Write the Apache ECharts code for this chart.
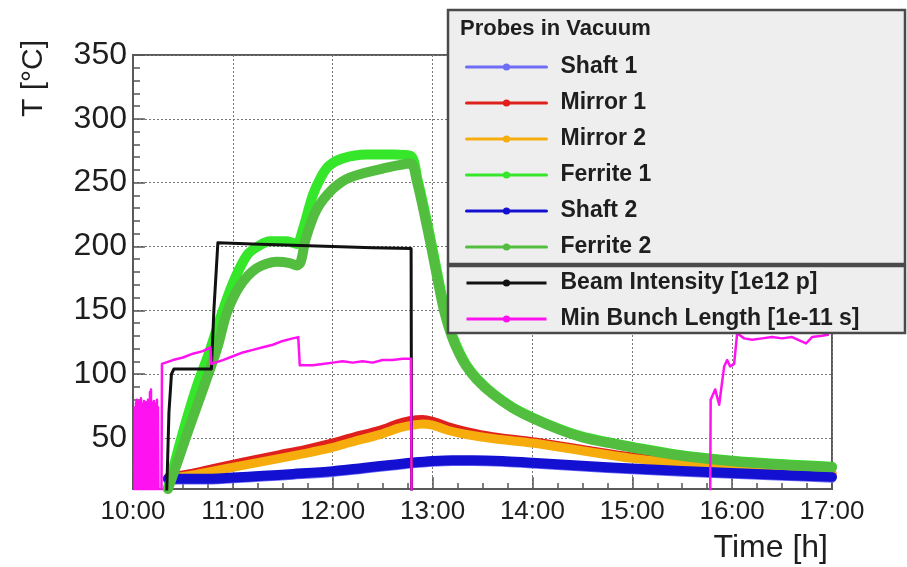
<!DOCTYPE html>
<html>
<head>
<meta charset="utf-8">
<title>Probe temperatures</title>
<script src="https://cdn.jsdelivr.net/npm/echarts@6/dist/echarts.min.js"></script>
<style>
  html, body { margin: 0; padding: 0; background: #fff; }
  #chart { width: 907px; height: 567px; }
</style>
</head>
<body>
<div id="chart"></div>
<script>
// Time axis (hours of day) and temperature axis ticks
const hourLabels = ['10:00', '11:00', '12:00', '13:00', '14:00', '15:00', '16:00', '17:00'];
const tempTicks = [50, 100, 150, 200, 250, 300, 350];

// Temperature probes: [time in h, T in °C]
const shaft1 = [[10.35,17],[10.7,17],[11.0,18],[11.3,19.3],[11.6,20.8],[12.0,23],[12.3,25.5],[12.6,28],[12.8,29.7],[13.0,31],[13.2,31.6],[13.4,31.6],[13.7,31],[14.0,29.5],[14.5,27.2],[15.0,25],[15.5,23.2],[16.0,21.6],[16.5,20],[17.0,18.5]];
const mirror1 = [[10.35,19],[10.6,22.5],[10.8,26],[11.1,31],[11.47,37],[11.7,40.5],[11.97,45.5],[12.2,50.5],[12.47,56],[12.65,61],[12.77,63.5],[12.9,64.5],[13.0,63],[13.15,59],[13.34,55],[13.6,51],[14.0,47],[14.5,41],[15.0,35],[15.5,31],[16.0,28],[16.5,25],[17.0,22.5]];
const mirror2 = [[10.35,18],[10.6,21],[10.8,24],[11.1,28.5],[11.47,34],[11.7,37.5],[11.97,42],[12.2,47],[12.47,52.6],[12.65,57.5],[12.77,59.6],[12.9,61],[13.0,60],[13.15,56],[13.34,52.7],[13.6,49.5],[14.0,46],[14.5,40],[15.0,34],[15.5,30],[16.0,27],[16.5,24.5],[17.0,22]];
const ferrite1 = [[10.35,11],[10.45,40],[10.55,68],[10.65,93],[10.75,114],[10.85,138],[10.95,161],[11.05,180],[11.15,194],[11.25,200],[11.37,204],[11.54,204],[11.64,202],[11.7,213],[11.8,240],[11.88,254],[11.96,263],[12.1,269],[12.34,272],[12.6,272],[12.78,271],[12.85,252],[12.92,228],[13.0,198],[13.07,170],[13.13,148],[13.2,130],[13.27,117],[13.34,107],[13.45,96],[13.6,85],[13.8,74],[14.0,66],[14.27,57],[14.5,51],[14.8,46],[15.0,43],[15.4,37.5],[15.77,34],[16.2,31],[16.6,29],[17.0,27.5]];
const shaft2 = [[10.35,18],[10.7,18],[11.0,19],[11.3,20.3],[11.6,21.8],[12.0,24],[12.3,26.5],[12.6,29],[12.8,30.7],[13.0,32],[13.2,32.6],[13.4,32.6],[13.7,32],[14.0,30.5],[14.5,28.2],[15.0,26],[15.5,24.2],[16.0,22.6],[16.5,21],[17.0,19.5]];
const ferrite2 = [[10.35,10],[10.45,32],[10.55,55],[10.65,77],[10.75,99],[10.85,122],[10.94,148],[11.07,169],[11.24,183],[11.44,188],[11.57,187],[11.64,185],[11.68,188],[11.73,206],[11.84,229],[12.0,245],[12.17,254],[12.5,261],[12.78,265],[12.84,252],[12.91,228],[12.99,198],[13.06,170],[13.12,148],[13.19,130],[13.26,117],[13.33,107],[13.44,96],[13.6,84.5],[13.8,73.5],[14.0,65.5],[14.27,56.5],[14.5,50.5],[14.8,45.5],[15.0,42.5],[15.4,37],[15.77,33.5],[16.2,30.5],[16.6,28.5],[17.0,27]];

// Beam intensity [1e12 p]
const beamIntensity = [[10.0,0],[10.335,0],[10.36,70],[10.385,100],[10.41,104],[10.6,104],[10.785,104],[10.81,150],[10.85,203],[11.2,202],[11.6,201],[12.0,200],[12.4,199],[12.785,198.5],[12.79,0],[17.0,0]];

// Minimum bunch length [1e-11 s]
const bunchLength = [[10.015,0],[10.02,74],[10.025,5],[10.03,78],[10.035,0],[10.04,80],[10.045,12],[10.05,76],[10.055,0],[10.06,79],[10.065,3],[10.07,73],[10.075,0],[10.08,81],[10.085,8],[10.09,77],[10.095,0],[10.1,75],[10.105,2],[10.11,79],[10.115,0],[10.12,72],[10.125,6],[10.13,78],[10.135,0],[10.14,74],[10.145,10],[10.15,80],[10.155,0],[10.16,76],[10.165,4],[10.17,86],[10.175,0],[10.18,88],[10.185,7],[10.19,78],[10.195,0],[10.2,75],[10.205,3],[10.21,79],[10.215,0],[10.22,73],[10.225,9],[10.23,77],[10.235,0],[10.24,80],[10.245,5],[10.25,74],[10.255,0],[10.26,0],[10.285,0],[10.29,108],[10.4,111],[10.5,113],[10.6,116],[10.7,118],[10.775,121],[10.785,108],[10.9,111],[11.0,114],[11.1,117],[11.2,119],[11.3,121],[11.4,123],[11.5,126],[11.6,128],[11.655,129],[11.67,107],[11.8,107],[11.9,108],[12.0,109],[12.1,110],[12.2,109],[12.3,110],[12.4,109],[12.5,111],[12.6,111],[12.7,112],[12.785,112],[12.79,0],[15.78,0],[15.785,80],[15.83,88],[15.87,76],[15.92,106],[15.95,111],[15.98,106],[16.02,108],[16.05,132],[16.12,128],[16.2,127],[16.3,128],[16.4,129],[16.5,128],[16.6,129],[16.74,124],[16.8,129],[16.9,130],[16.97,131]];

const FONT = "'Liberation Sans', Arial, Helvetica, sans-serif";
const TEXT = '#1e1e1e';

function probe(name, data, color, width) {
  return {
    name, type: 'line', data,
    showSymbol: false, symbol: 'circle', symbolSize: 6,
    smooth: 0.3,
    silent: true,
    itemStyle: { color },
    lineStyle: { color, width, cap: 'round', join: 'round' }
  };
}

function trace(name, data, color, width) {
  return {
    name, type: 'line', data,
    showSymbol: false, symbol: 'circle', symbolSize: 6,
    silent: true,
    itemStyle: { color },
    lineStyle: { color, width, join: 'round' }
  };
}

const chart = echarts.init(document.getElementById('chart'), null, { renderer: 'canvas' });

chart.setOption({
  animation: false,
  backgroundColor: '#ffffff',
  grid: {
    left: 133, right: 75, top: 55, bottom: 78,
    show: true, borderColor: '#5a5a5a', borderWidth: 2,
    backgroundColor: 'transparent',
    outerBoundsMode: 'none'
  },
  xAxis: {
    type: 'value', min: 10, max: 17, interval: 1,
    axisLine: { show: true, lineStyle: { color: '#5a5a5a', width: 2 } },
    axisTick: { show: true, inside: true, length: 12, lineStyle: { color: '#555', width: 1.5 } },
    minorTick: { show: true, splitNumber: 4, length: 6, lineStyle: { color: '#555', width: 1.5 } },
    axisLabel: {
      margin: 10, fontSize: 26, color: TEXT, fontFamily: FONT,
      formatter: v => hourLabels[Math.round(v - 10)]
    },
    splitLine: { show: true, lineStyle: { color: '#777', width: 1, type: [2, 2] } }
  },
  yAxis: [
    {
      type: 'value', min: 10, max: 350,
      axisLine: { show: true, lineStyle: { color: '#5a5a5a', width: 2 } },
      axisTick: { show: true, inside: true, length: 12, customValues: tempTicks, lineStyle: { color: '#555', width: 1.5 } },
      axisLabel: { customValues: tempTicks, margin: 6, fontSize: 32, color: TEXT, fontFamily: FONT },
      splitLine: { show: true, lineStyle: { color: '#777', width: 1, type: [2, 2] } }
    },
    {
      type: 'value', min: 10, max: 350, interval: 10, position: 'left',
      axisLine: { show: false },
      axisTick: { show: true, inside: true, length: 7, lineStyle: { color: '#555', width: 1.5 } },
      axisLabel: { show: false },
      splitLine: { show: false }
    }
  ],
  legend: {
    orient: 'vertical', left: 460, top: 49,
    itemWidth: 80, itemHeight: 9, itemGap: 10,
    selectedMode: false, z: 8,
    lineStyle: { width: 3 },
    textStyle: { fontSize: 23, fontWeight: 'bold', fontFamily: FONT, color: TEXT, lineHeight: 26, padding: [0, 0, 0, 9] },
    data: ['Shaft 1', 'Mirror 1', 'Mirror 2', 'Ferrite 1', 'Shaft 2', 'Ferrite 2',
           'Beam Intensity [1e12 p]', 'Min Bunch Length [1e-11 s]']
  },
  graphic: [
    { type: 'rect', z: 5, shape: { x: 448, y: 10, width: 457, height: 254 },
      style: { fill: '#eeeeee', stroke: '#4a4a4a', lineWidth: 2.5 } },
    { type: 'rect', z: 5, shape: { x: 448, y: 266, width: 457, height: 67 },
      style: { fill: '#eeeeee', stroke: '#4a4a4a', lineWidth: 2.5 } },
    { type: 'text', z: 9, x: 460, y: 29,
      style: { text: 'Probes in Vacuum', font: "bold 22px " + FONT, fill: TEXT, textAlign: 'left', textVerticalAlign: 'middle' } },
    { type: 'text', z: 9, x: 34, y: 40, rotation: Math.PI / 2,
      style: { text: 'T [°C]', font: "30px " + FONT, fill: TEXT, textAlign: 'right', textVerticalAlign: 'middle' } },
    { type: 'text', z: 9, x: 828, y: 548,
      style: { text: 'Time [h]', font: "32px " + FONT, fill: TEXT, textAlign: 'right', textVerticalAlign: 'middle' } }
  ],
  series: [
    probe('Shaft 1', shaft1, '#6f6cf5', 9),
    probe('Mirror 1', mirror1, '#e0201c', 9),
    probe('Mirror 2', mirror2, '#f5ac0c', 9),
    probe('Ferrite 1', ferrite1, '#35e62a', 10),
    probe('Shaft 2', shaft2, '#1410d2', 10),
    probe('Ferrite 2', ferrite2, '#52bd3e', 10),
    trace('Beam Intensity [1e12 p]', beamIntensity, '#111111', 3),
    trace('Min Bunch Length [1e-11 s]', bunchLength, '#ff12f0', 2.5)
  ]
});
</script>
</body>
</html>
